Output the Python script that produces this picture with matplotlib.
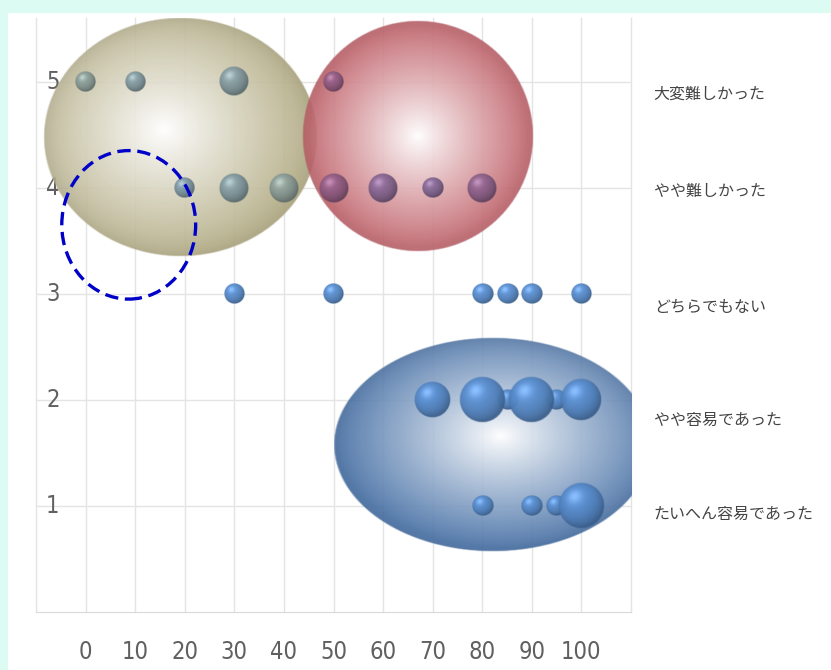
import numpy as np
import matplotlib
matplotlib.use("Agg")
import matplotlib.pyplot as plt
from matplotlib.patches import Ellipse, Rectangle

# bubble data: answer level (1-5), score (x) and number of answers (bubble size)
bubble_x = [0, 10, 30, 50,
            20, 30, 40, 50, 60, 70, 80,
            30, 50, 80, 85, 90, 100,
            70, 80, 85, 90, 95, 100,
            80, 90, 95, 100]
bubble_y = [5, 5, 5, 5,
            4, 4, 4, 4, 4, 4, 4,
            3, 3, 3, 3, 3, 3,
            2, 2, 2, 2, 2, 2,
            1, 1, 1, 1]
bubble_n = [1, 1, 2, 1,
            1, 2, 2, 2, 2, 1, 2,
            1, 1, 1, 1, 1, 1,
            3, 5, 1, 5, 1, 4,
            1, 1, 1, 5]

x_ticks = [0, 10, 20, 30, 40, 50, 60, 70, 80, 90, 100]
y_ticks = [1, 2, 3, 4, 5]
level_labels = ["たいへん容易であった", "やや容易であった", "どちらでもない",
                "やや難しかった", "大変難しかった"]

# highlight groups (big shaded ellipses) and the dashed marker
group_x = [19.2, 67.0, 82.0]
group_y = [4.48, 4.48, 1.58]
group_w = [55.4, 46.6, 64.3]
group_h = [2.26, 2.18, 2.02]
group_colors = ["#b3ac84", "#c2666e", "#4670a6"]
group_tints = ["#a8a372", "#b23c52", "#4a7cbc"]

mark_x, mark_y, mark_w, mark_h = 8.7, 3.65, 27.0, 1.40

W, H = 831, 670
fig = plt.figure(figsize=(W / 100, H / 100), dpi=100)
fig.patch.set_facecolor("#dcfcf3")
fig.patches.append(Rectangle((8 / W, 0), 1, (H - 13) / H, transform=fig.transFigure,
                             facecolor="white", edgecolor="none", zorder=-10))

ax_l, ax_b, ax_w, ax_h = 36 / W, 58 / H, 595 / W, 594 / H
ax = fig.add_axes([ax_l, ax_b, ax_w, ax_h])
ax.set_facecolor("none")
xmin, xmax, ymin, ymax = -10, 110, 0, 5.6
ax.set_xlim(xmin, xmax)
ax.set_ylim(ymin, ymax)

px_x = ax_w * W / (xmax - xmin)
px_y = ax_h * H / (ymax - ymin)

# grid
for gx in range(-10, 111, 10):
    ax.axvline(gx, color="#e4e4e4", lw=1, zorder=0, clip_on=False)
for gy in y_ticks:
    ax.axhline(gy, color="#e4e4e4", lw=1, zorder=0)
for s in ["top", "right", "left"]:
    ax.spines[s].set_visible(False)
ax.spines["bottom"].set_color("#d9d9d9")

num_font = dict(family="DejaVu Sans", fontstretch="condensed", fontsize=17, color="#606060")
ax.set_xticks(x_ticks)
ax.set_xticklabels([str(v) for v in x_ticks], **num_font)
ax.tick_params(axis="x", length=0, pad=20)
ax.set_yticks([])
for v in y_ticks:
    ax.text(-6.6, v, str(v), ha="center", va="center", zorder=1, **num_font)

jp_font = ["Noto Sans CJK JP", "DejaVu Sans"]
label_shift = [-0.08, -0.19, -0.13, -0.04, -0.12]
for v, lab, sh in zip(y_ticks, level_labels, label_shift):
    ax.text(114.6, v + sh, lab, family=jp_font, fontsize=11.5, color="#444444",
            ha="left", va="center", clip_on=False)


def ellipse_image(edge, hx, hy, n=300):
    u, v = np.meshgrid(np.linspace(-1, 1, n), np.linspace(-1, 1, n))
    r = np.sqrt(u ** 2 + v ** 2)
    t = np.clip(np.sqrt((u - hx) ** 2 + (v - hy) ** 2) / (1 + np.hypot(hx, hy)), 0, 1)
    w = np.clip(t ** 0.9 * 1.05, 0, 1)
    ec = np.array(matplotlib.colors.to_rgb(edge))
    rgb = (1 - w)[..., None] * np.ones(3) + w[..., None] * ec
    rgb *= (1 - 0.08 * r ** 12)[..., None]
    img = np.zeros((n, n, 4))
    img[..., :3] = np.clip(rgb, 0, 1)
    img[..., 3] = np.clip((1 - r) * n / 3, 0, 1) * 0.9
    return img


def sphere_image(base, n=64):
    u, v = np.meshgrid(np.linspace(-1, 1, n), np.linspace(-1, 1, n))
    r2 = u ** 2 + v ** 2
    r = np.sqrt(r2)
    z = np.sqrt(np.clip(1 - r2, 0, 1))
    L = np.array([-0.3, 0.4, 0.87])
    L = L / np.linalg.norm(L)
    lam = np.clip(u * L[0] + v * L[1] + z * L[2], 0, 1)
    bc = np.array(base)
    rgb = bc * (0.72 + 0.38 * lam)[..., None]
    spec = lam ** 20 * 0.18
    rgb = rgb + spec[..., None]
    img = np.zeros((n, n, 4))
    img[..., :3] = np.clip(rgb, 0, 1)
    img[..., 3] = np.clip((1 - r) * n / 3, 0, 1) * 0.95
    return img


highlights = [(-0.12, 0.06), (0.0, 0.0), (0.05, 0.08)]
for gx, gy, gw, gh, gc, hl in zip(group_x, group_y, group_w, group_h, group_colors, highlights):
    ax.imshow(ellipse_image(gc, *hl), extent=[gx - gw / 2, gx + gw / 2, gy - gh / 2, gy + gh / 2],
              origin="lower", aspect="auto", interpolation="bilinear", zorder=2)

blue = np.array(matplotlib.colors.to_rgb("#5486c4"))
order = np.argsort(bubble_n, kind="stable")
for i in order:
    bx, by, bn = bubble_x[i], bubble_y[i], bubble_n[i]
    col = blue.copy()
    for gx, gy, gw, gh, tint in zip(group_x, group_y, group_w, group_h, group_tints):
        rn = np.hypot((bx - gx) / (gw / 2), (by - gy) / (gh / 2))
        if rn < 1 and tint != group_tints[2]:
            w = 0.3 + 0.35 * rn
            col = (1 - w) * blue + w * np.array(matplotlib.colors.to_rgb(tint))
    rad = 10.5 * np.sqrt(bn)
    rx, ry = rad / px_x, rad / px_y
    ax.imshow(sphere_image(col), extent=[bx - rx, bx + rx, by - ry, by + ry],
              origin="lower", aspect="auto", interpolation="bilinear", zorder=3)

ax.add_patch(Ellipse((mark_x, mark_y), mark_w, mark_h, fill=False, edgecolor="#0000c8",
                     lw=2.4, linestyle=(0, (4, 2)), zorder=5))

ax.set_xlim(xmin, xmax)
ax.set_ylim(ymin, ymax)
fig.savefig("out.png", dpi=100)
